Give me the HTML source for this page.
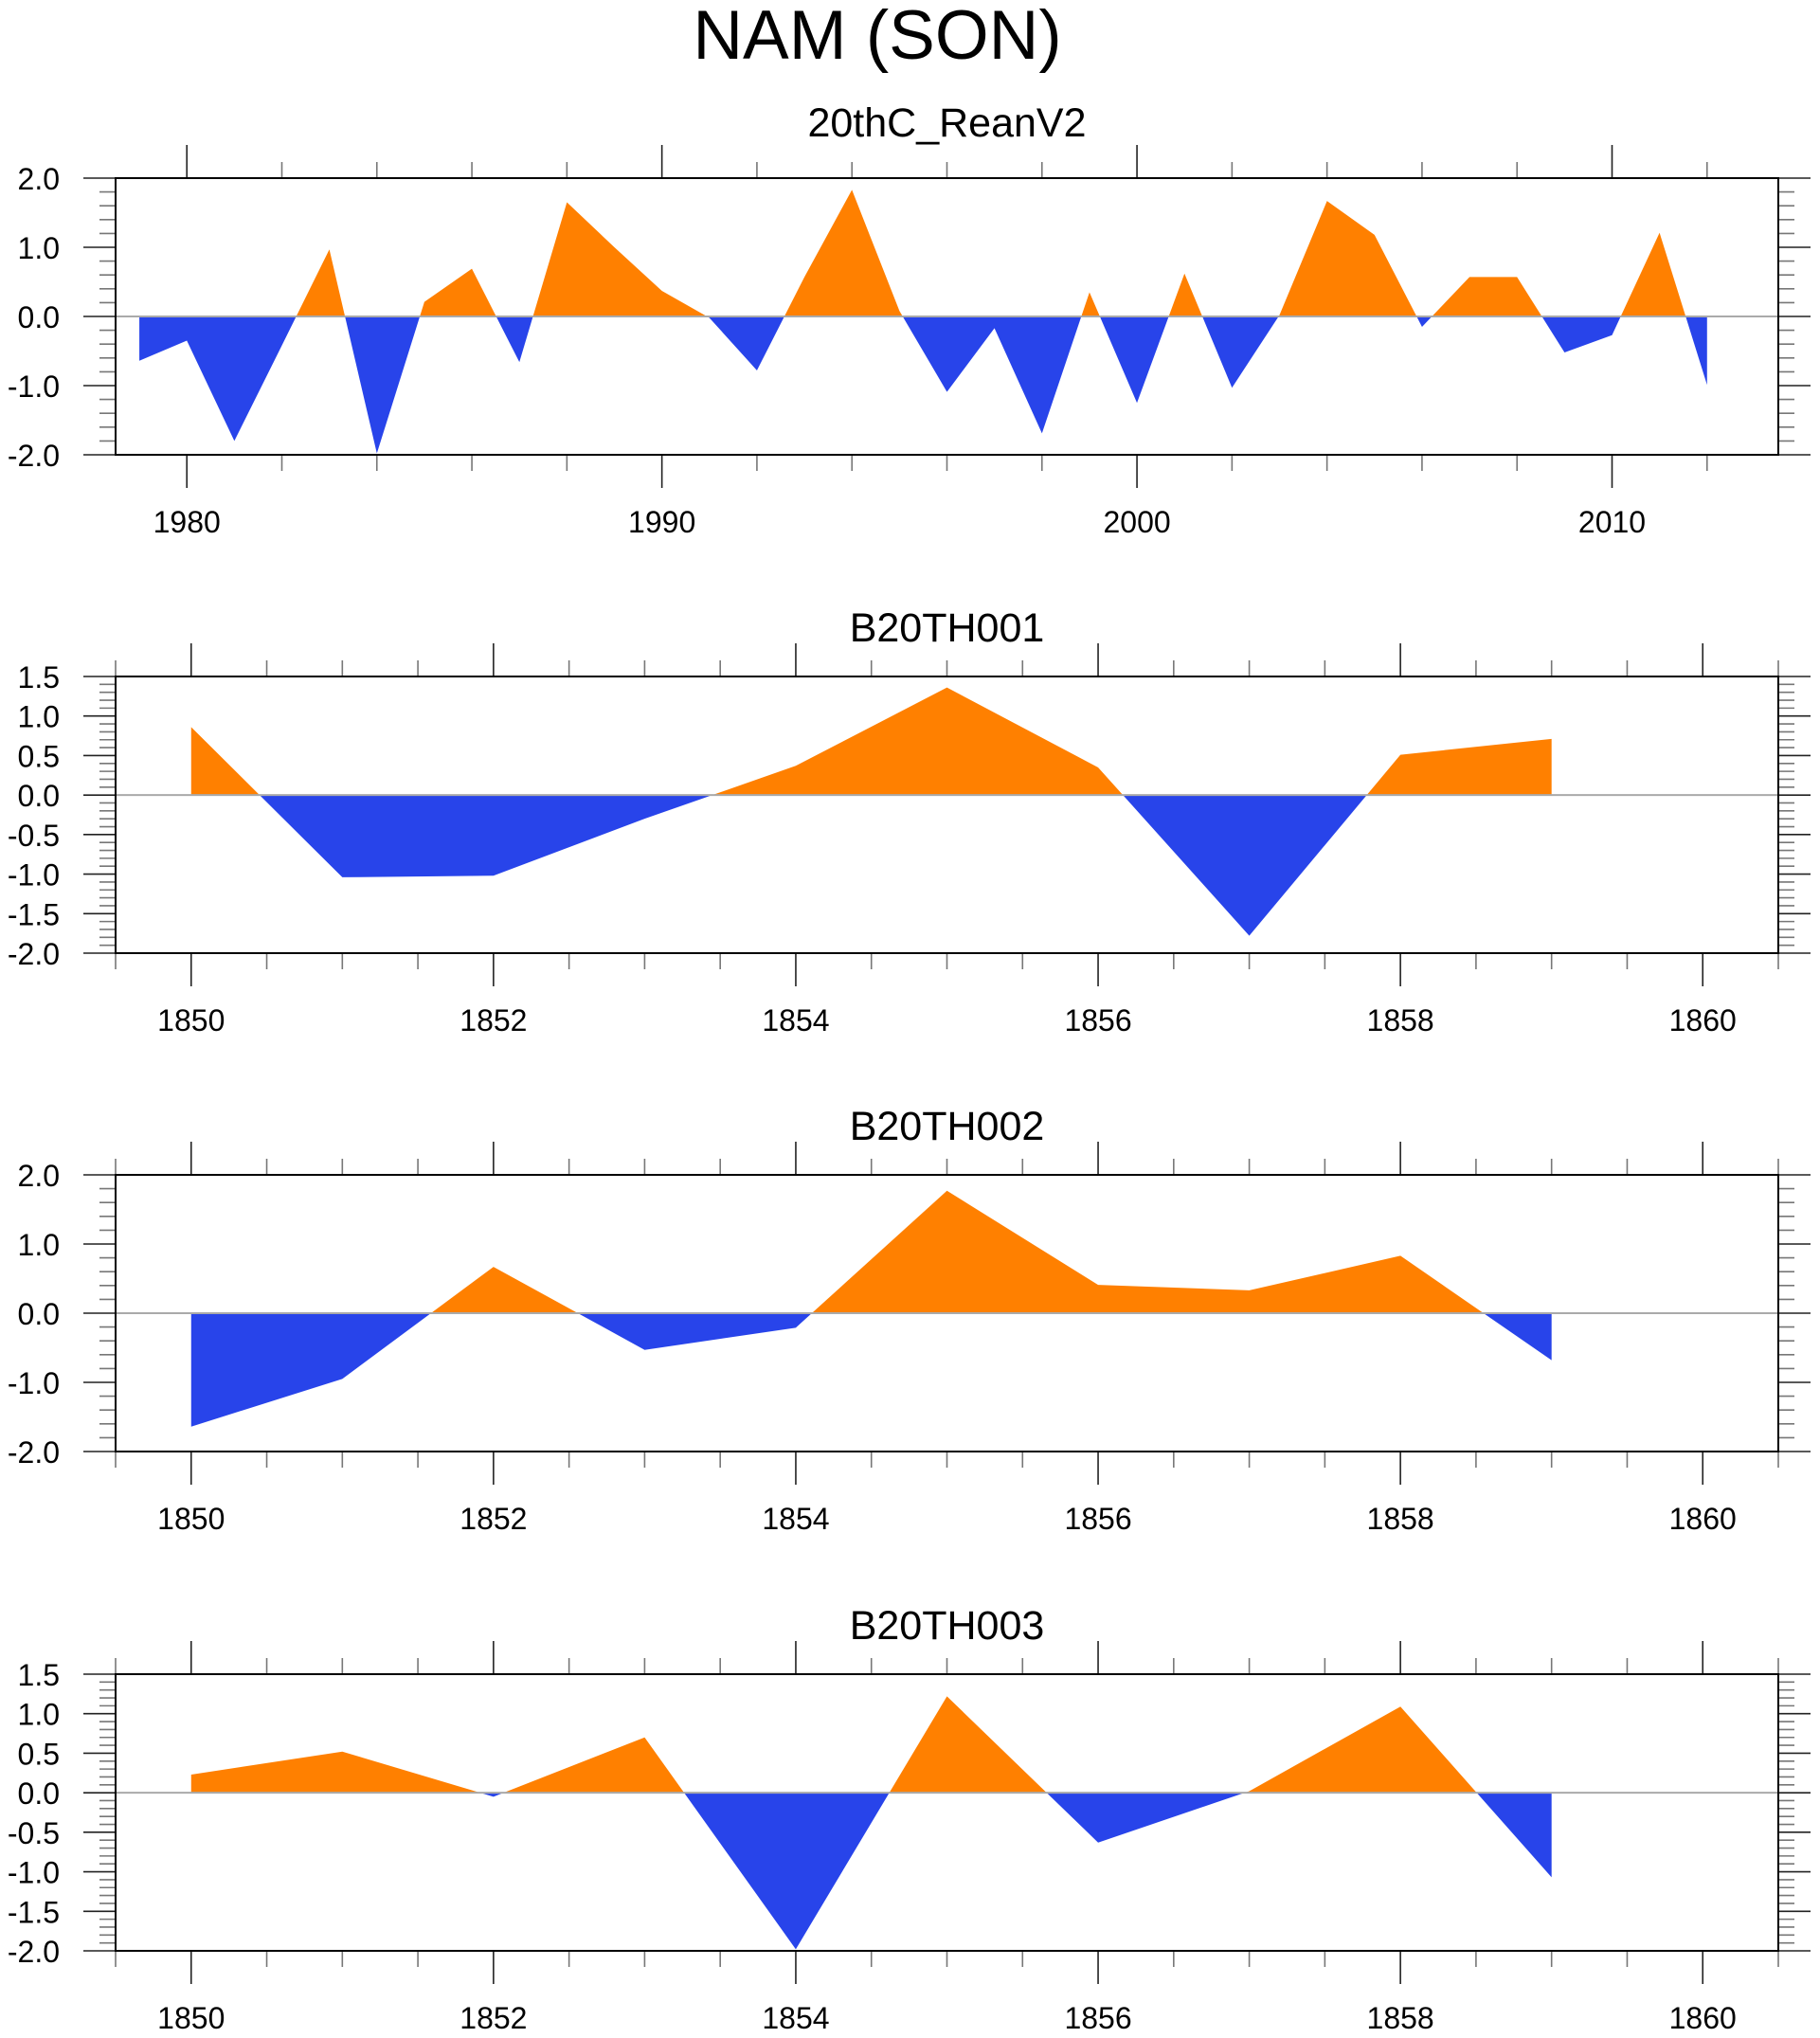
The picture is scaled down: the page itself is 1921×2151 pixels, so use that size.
<!DOCTYPE html>
<html><head><meta charset="utf-8">
<style>
html,body{margin:0;padding:0;background:#fff;}
svg{display:block;font-family:"Liberation Sans",sans-serif;}
</style></head>
<body>
<svg id="chart" width="1921" height="2151" viewBox="0 0 1921 2151" xmlns="http://www.w3.org/2000/svg">
<text x="926" y="62" font-size="73" text-anchor="middle" fill="#000">NAM (SON)</text>
</svg>
<script>
// Panel 1: 20thC_ReanV2
const years1 = [1979,1980,1981,1982,1983,1984,1985,1986,1987,1988,1989,1990,1991,1992,1993,1994,1995,1996,1997,1998,1999,2000,2001,2002,2003,2004,2005,2006,2007,2008,2009,2010,2011,2012];
const values1 = [-0.64,-0.35,-1.80,-0.42,0.97,-1.98,0.21,0.69,-0.66,1.65,1.0,0.37,-0.02,-0.78,0.57,1.83,0.08,-1.09,-0.17,-1.69,0.35,-1.25,0.62,-1.03,0.02,1.67,1.18,-0.15,0.57,0.57,-0.52,-0.27,1.21,-0.99];
const xTicks1 = [1980,1990,2000,2010];
const yTicks1 = ["2.0","1.0","0.0","-1.0","-2.0"];
// Panels 2-4: model runs
const yearsM = [1850,1851,1852,1853,1854,1855,1856,1857,1858,1859];
const values2 = [0.86,-1.04,-1.02,-0.30,0.37,1.36,0.35,-1.78,0.51,0.71];
const values3 = [-1.64,-0.95,0.67,-0.53,-0.21,1.77,0.41,0.33,0.83,-0.68];
const values4 = [0.23,0.52,-0.05,0.70,-1.98,1.22,-0.63,0.02,1.09,-1.07];
const xTicksM = [1850,1852,1854,1856,1858,1860];
const yTicksA = ["1.5","1.0","0.5","0.0","-0.5","-1.0","-1.5","-2.0"];
const yTicksB = ["2.0","1.0","0.0","-1.0","-2.0"];

const NS = "http://www.w3.org/2000/svg";
const svg = document.getElementById('chart');
function mk(tag, attrs, parent){
  const e = document.createElementNS(NS, tag);
  for (const k in attrs) e.setAttribute(k, attrs[k]);
  (parent||svg).appendChild(e);
  return e;
}
const L = 122, R = 1877;

function panel(opt){
  const g = mk('g', {});
  
  
  const T = opt.top, B = opt.top + 292;
  const xs = v => L + (v - opt.x0) / (opt.x1 - opt.x0) * (R - L);
  const ys = v => T + (opt.y1 - v) / (opt.y1 - opt.y0) * (B - T);
  const y0 = ys(0);
  const id = opt.name;
  const defs = mk('defs', {}, g);
  const cpA = mk('clipPath', {id: id+'-above'}, defs);
  mk('rect', {x: L, y: T, width: R-L, height: y0-T}, cpA);
  const cpB = mk('clipPath', {id: id+'-below'}, defs);
  mk('rect', {x: L, y: y0, width: R-L, height: B-y0}, cpB);
  let d = 'M' + xs(opt.xs[0]) + ',' + y0;
  opt.vals.forEach((v,i) => { d += ' L' + xs(opt.xs[i]) + ',' + ys(v); });
  d += ' L' + xs(opt.xs[opt.xs.length-1]) + ',' + y0 + ' Z';
  const pa = mk('path', {d: d, fill: '#ff8000', 'clip-path': 'url(#'+id+'-above)'}, g);
  
  
  const pb = mk('path', {d: d, fill: '#2844ea', 'clip-path': 'url(#'+id+'-below)'}, g);
  
  
  const zl = mk('line', {x1: L, x2: R, y1: y0, y2: y0, stroke: '#aaa', 'stroke-width': 2}, g);
  
  
  // x ticks
  const xStart = Math.ceil(opt.x0 / opt.xMinor - 1e-6) * opt.xMinor;
  for (let v = xStart; v <= opt.x1 + 1e-6; v += opt.xMinor){
    const x = xs(v);
    const major = opt.xTicks.some(t => Math.abs(t - v) < 1e-6);
    const len = major ? 35 : 17;
    mk('line', {x1: x, x2: x, y1: T, y2: T-len, stroke: major ? '#222' : '#777', 'stroke-width': 1.6}, g);
    mk('line', {x1: x, x2: x, y1: B, y2: B+len, stroke: major ? '#222' : '#777', 'stroke-width': 1.6}, g);
  }
  opt.xTicks.forEach(t => {
    const tx = mk('text', {x: xs(t), y: B + 82, 'font-size': 32, 'text-anchor': 'middle', fill: '#000'}, g);
    tx.textContent = t;
    
    
  });
  // y ticks
  for (let v = opt.y0; v <= opt.y1 + 1e-6; v += opt.yMinor){
    const y = ys(v);
    const major = opt.yTicks.some(t => Math.abs(parseFloat(t) - v) < 1e-6);
    const len = major ? 34 : 17;
    mk('line', {x1: L, x2: L-len, y1: y, y2: y, stroke: major ? '#222' : '#777', 'stroke-width': 1.6}, g);
    mk('line', {x1: R, x2: R+len, y1: y, y2: y, stroke: major ? '#222' : '#777', 'stroke-width': 1.6}, g);
  }
  opt.yTicks.forEach(t => {
    const tx = mk('text', {x: 63, y: ys(parseFloat(t)) + 12, 'font-size': 32, 'text-anchor': 'end', fill: '#000'}, g);
    tx.textContent = t;
    
    
  });
  const fr = mk('rect', {x: L, y: T, width: R-L, height: B-T, fill: 'none', stroke: '#000', 'stroke-width': 2}, g);
  
  
  const ti = mk('text', {x: (L+R)/2, y: T - opt.titleOff, 'font-size': 43, 'text-anchor': 'middle', fill: '#000'}, g);
  ti.textContent = opt.title;
  
  
}

panel({name:'panel-20thc-reanv2', title:'20thC_ReanV2', titleOff:44, top:188, x0:1978.5, x1:2013.5, xMinor:2, xTicks:xTicks1, xs:years1, vals:values1, y0:-2, y1:2, yMinor:0.2, yTicks:yTicks1});
panel({name:'panel-b20th001', title:'B20TH001', titleOff:37, top:714, x0:1849.5, x1:1860.5, xMinor:0.5, xTicks:xTicksM, xs:yearsM, vals:values2, y0:-2, y1:1.5, yMinor:0.1, yTicks:yTicksA});
panel({name:'panel-b20th002', title:'B20TH002', titleOff:37, top:1240, x0:1849.5, x1:1860.5, xMinor:0.5, xTicks:xTicksM, xs:yearsM, vals:values3, y0:-2, y1:2, yMinor:0.2, yTicks:yTicksB});
panel({name:'panel-b20th003', title:'B20TH003', titleOff:37, top:1767, x0:1849.5, x1:1860.5, xMinor:0.5, xTicks:xTicksM, xs:yearsM, vals:values4, y0:-2, y1:1.5, yMinor:0.1, yTicks:yTicksA});
</script>
</body></html>
